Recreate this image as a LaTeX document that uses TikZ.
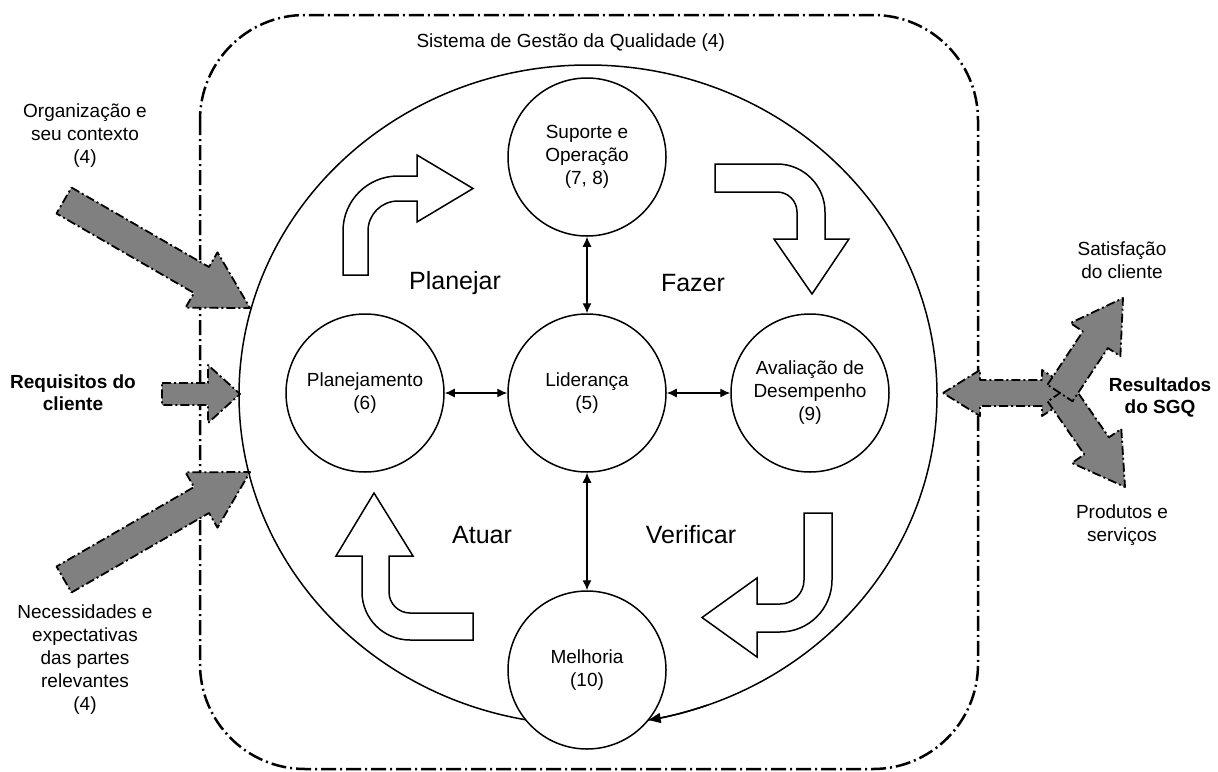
\documentclass[tikz,border=0pt]{standalone}
\usepackage{fontspec}
\setmainfont{Liberation Sans}
\usetikzlibrary{arrows.meta}
\definecolor{agray}{RGB}{128,128,128}
\begin{document}
\begin{tikzpicture}[x=1pt,y=-1pt,
  circ/.style={circle, draw, line width=1.5pt, fill=white, minimum size=158pt, inner sep=0pt, align=center, font=\fontsize{19}{23}\selectfont},
  garrow/.style={fill=agray, draw=black, line width=1.8pt, dash pattern=on 9pt off 3pt on 2pt off 3pt, line join=round},
  warrow/.style={fill=white, draw=black, line width=1.5pt, line join=miter},
  lbl/.style={font=\fontsize{19}{23}\selectfont, align=center},
  blbl/.style={font=\fontsize{19}{22}\selectfont\bfseries, align=center},
  phase/.style={font=\fontsize{25}{30}\selectfont},
  link/.style={{Latex[length=10pt,width=9pt]}-{Latex[length=10pt,width=9pt]}, line width=1.3pt}
]
\useasboundingbox (0,0) rectangle (1218,771);

% frame
\draw[line width=2.5pt, dash pattern=on 15pt off 4pt on 2pt off 4pt, rounded corners=105pt] (200,15) rectangle (978,769);
\node[lbl, anchor=west] (title) at (413,43) {Sistema de Gestão da Qualidade (4)};

% big cycle
\draw[line width=1.5pt] (588,395) ellipse [x radius=349, y radius=330];

% gray arrows left
\draw[garrow] (71.5,187.5) -- (209,267) -- (217.5,252.3) -- (250,308) -- (185.5,307.7) -- (194,293) -- (56.5,213.5) -- cycle;
\draw[garrow] (162,383) -- (208,383) -- (208,365) -- (240,394) -- (208,423) -- (208,405) -- (162,405) -- cycle;
\draw[garrow] (71.5,592.5) -- (209,513) -- (217.5,527.7) -- (250,472) -- (185.5,472.3) -- (194,487) -- (56.5,566.5) -- cycle;

% gray arrows right
\draw[garrow] (943,393) -- (980,370) -- (980,380) -- (1042,380) -- (1042,370) -- (1078,393) -- (1042,416) -- (1042,406) -- (980,406) -- (980,416) -- cycle;
\draw[garrow] (1047.7,401.5) -- (1084.3,454.4) -- (1071.9,463) -- (1125,487) -- (1121.3,428.8) -- (1108.9,437.4) -- (1072.3,384.5) -- cycle;
\draw[garrow] (1047.5,384.7) -- (1082.9,331.4) -- (1070.4,323.1) -- (1123,298) -- (1120.4,356.3) -- (1107.9,348) -- (1072.5,401.3) -- cycle;

% white curved arrows
\draw[warrow] (343,275) -- (343,231) arc[start angle=180, end angle=270, radius=55] -- (417,176) -- (417,155) -- (473,188.5) -- (417,222) -- (417,201) -- (398,201) arc[start angle=270, end angle=180, radius=30] -- (368,275) -- cycle;
\draw[warrow] (715,164) -- (777,164) arc[start angle=270, end angle=360, radius=48] -- (825,239) -- (849,239) -- (812,294) -- (774,239) -- (797,239) -- (797,212) arc[start angle=0, end angle=-90, radius=20] -- (715,192) -- cycle;
\draw[warrow] (804,513) -- (832,513) -- (832,580) arc[start angle=0, end angle=90, radius=52] -- (757,632) -- (757,657) -- (702,617.5) -- (757,578) -- (757,604) -- (780,604) arc[start angle=90, end angle=0, radius=24] -- cycle;
\draw[warrow] (473,640) -- (410,640) arc[start angle=90, end angle=180, radius=48] -- (362,556) -- (336,556) -- (374,493) -- (413,556) -- (389,556) -- (389,592) arc[start angle=180, end angle=90, radius=21] -- (473,613) -- cycle;

% circles
\node[circ] (sup) at (587,157) {Suporte e\\Operação\\(7, 8)};
\node[circ] (pla) at (365,393) {Planejamento\\(6)};
\node[circ] (lid) at (587,393) {Liderança\\(5)};
\node[circ] (ava) at (810,393) {Avaliação de\\Desempenho\\(9)};
\node[circ] (mel) at (587,670) {Melhoria\\(10)};

% cycle arrowhead into Melhoria
\draw[line width=1.5pt, -{Triangle[length=12pt,width=10pt]}] (707.4,705.1) arc[start angle=70, end angle=80, x radius=349, y radius=330];

% links
\draw[link] (sup) -- (lid);
\draw[link] (pla) -- (lid);
\draw[link] (lid) -- (ava);
\draw[link] (lid) -- (mel);

% phase labels
\node[phase] (pl) at (455,283) {Planejar};
\node[phase] (fa) at (693,283) {Fazer};
\node[phase] (at) at (482,535) {Atuar};
\node[phase] (ve) at (691,535) {Verificar};

% side labels
\node[lbl] (org) at (85,136) {Organização e\\seu contexto\\(4)};
\node[blbl] (req) at (73,393) {Requisitos do\\cliente};
\node[lbl] (nec) at (85,660) {Necessidades e\\expectativas\\das partes\\relevantes\\(4)};
\node[lbl] (sat) at (1122,260) {Satisfação\\do cliente};
\node[blbl] (res) at (1160,397) {Resultados\\do SGQ};
\node[lbl] (pro) at (1122,525) {Produtos e\\serviços};
\end{tikzpicture}
\end{document}
